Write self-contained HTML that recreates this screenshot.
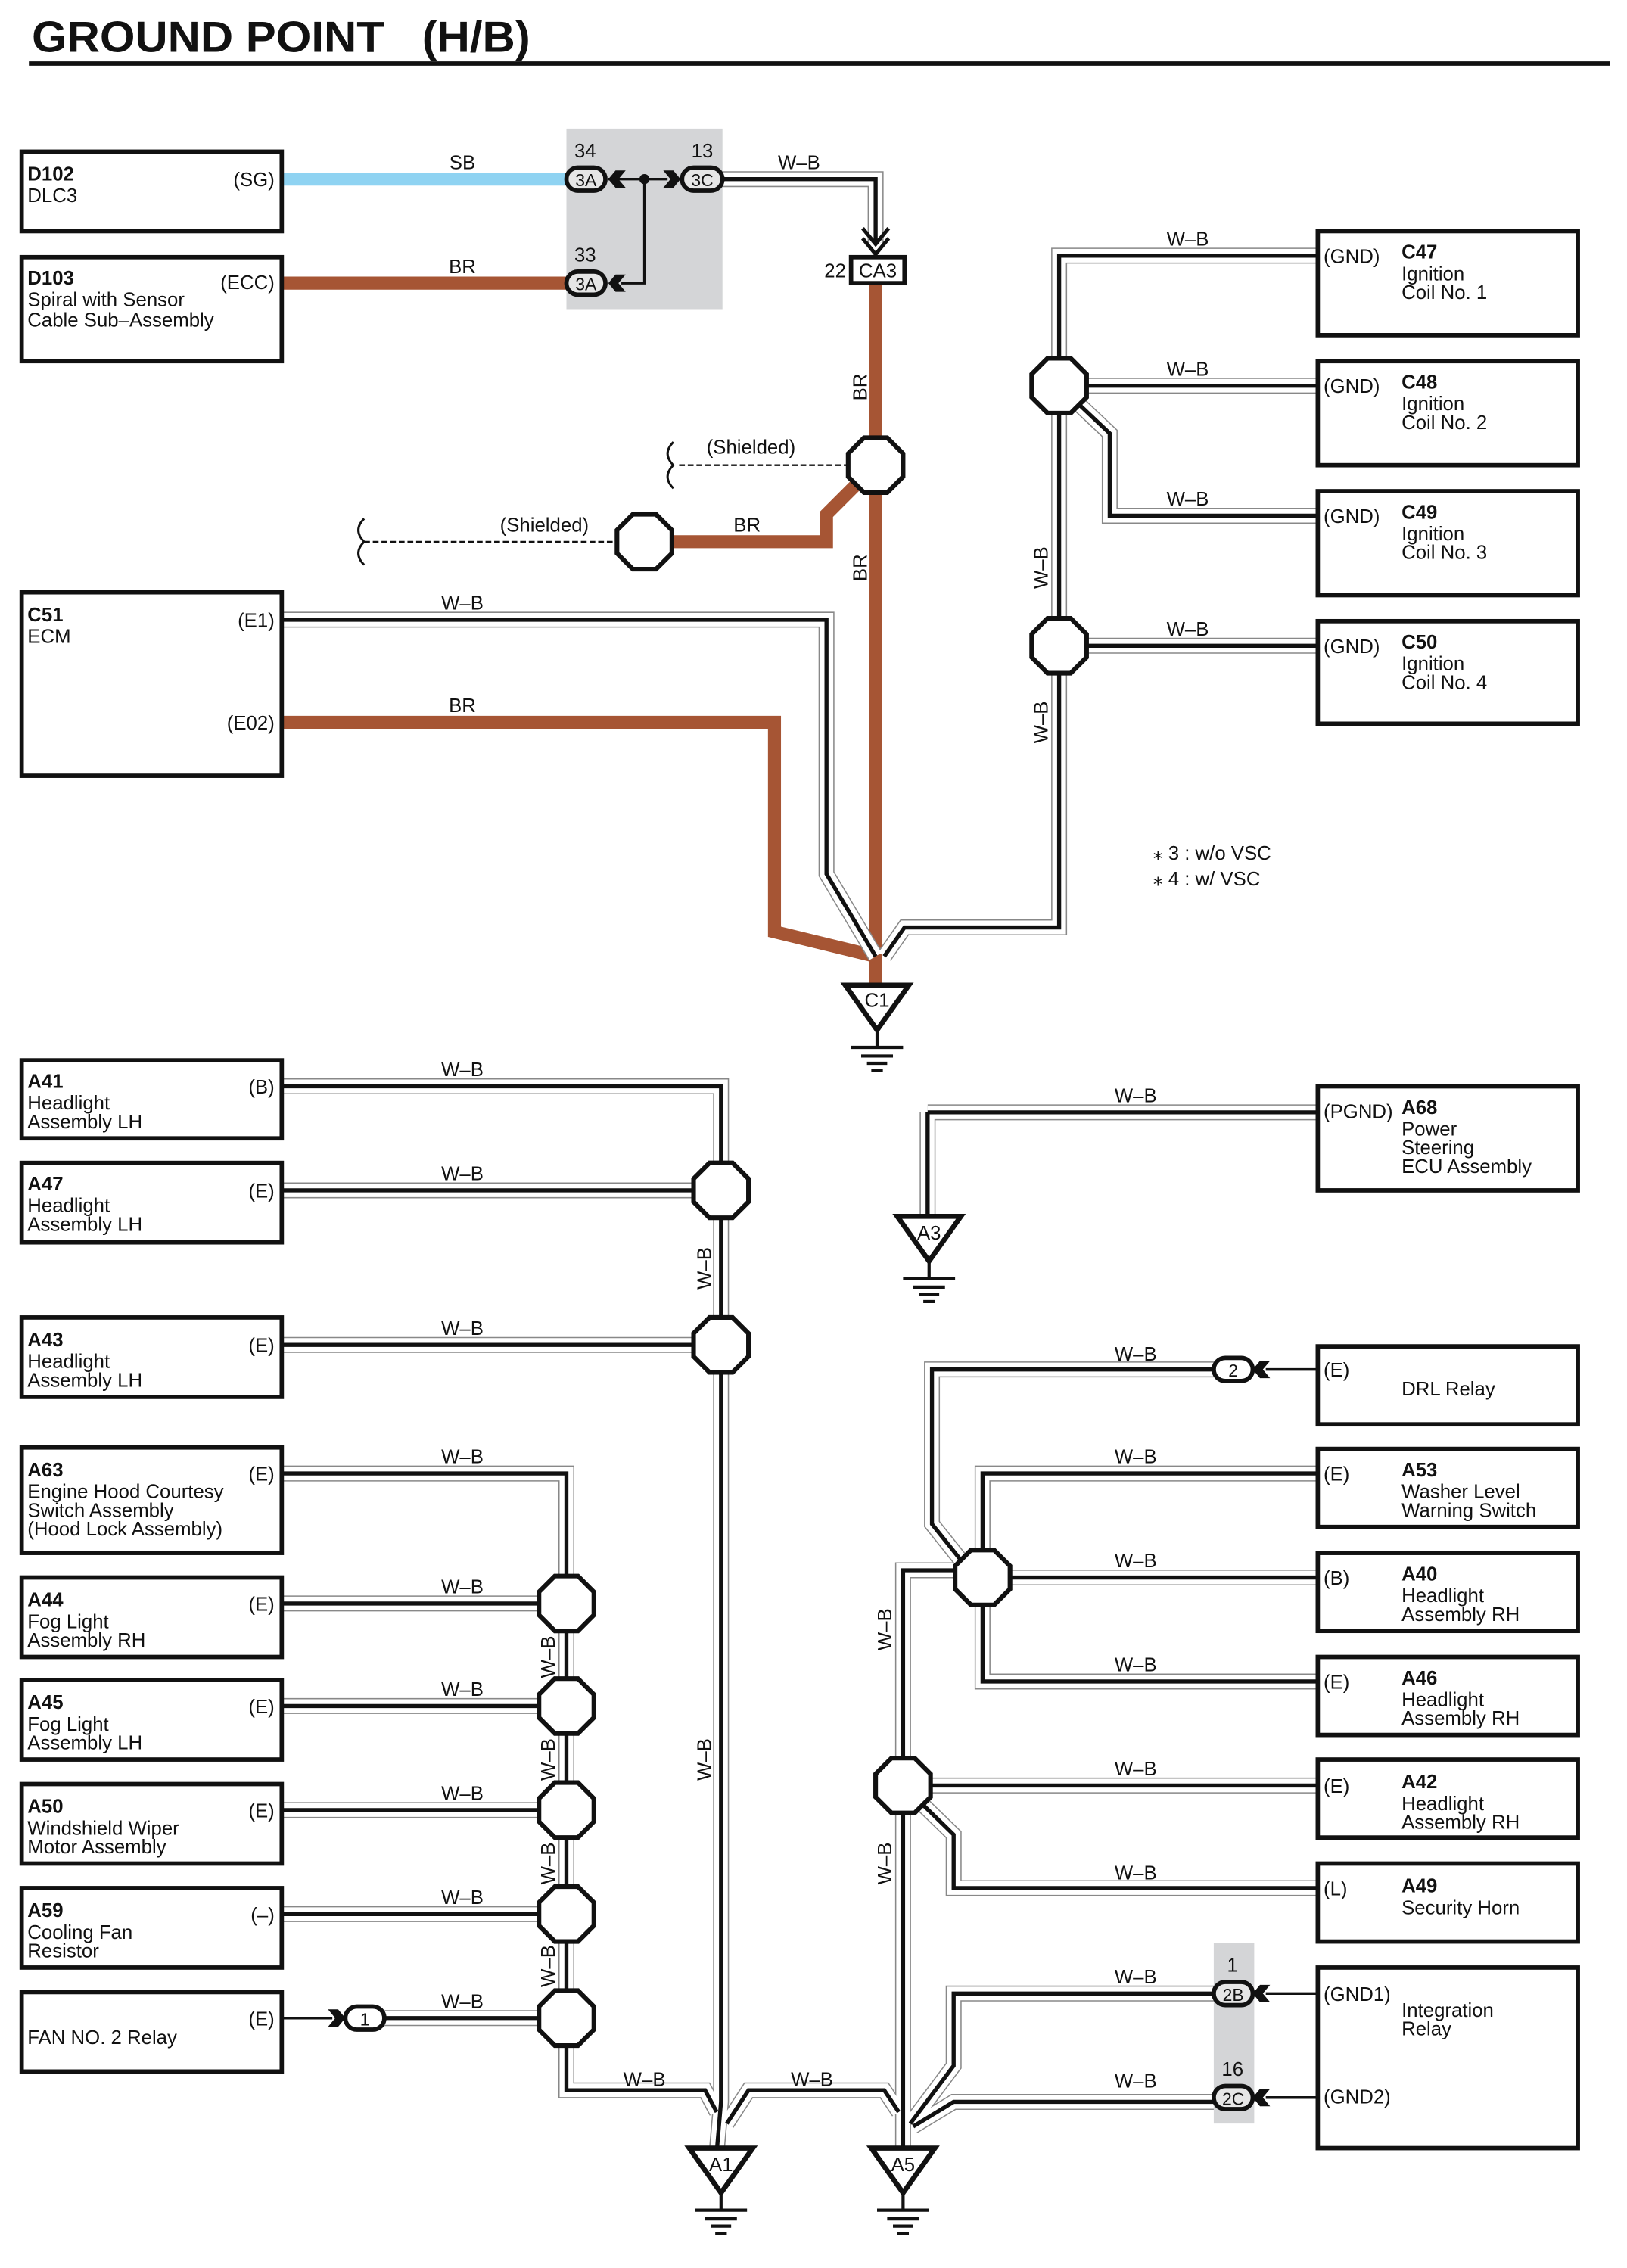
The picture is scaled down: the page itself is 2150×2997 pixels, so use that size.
<!DOCTYPE html>
<html><head><meta charset="utf-8"><style>
html,body{margin:0;padding:0;background:#fff}
svg{display:block}
text{font-family:"Liberation Sans Narrow","Liberation Sans",sans-serif;font-size:13.5px;fill:#111}
.b{font-weight:bold}
.box{fill:#fff;stroke:#111;stroke-width:3}
</style></head><body>
<svg width="2150" height="2997" viewBox="0 0 1126 1570" preserveAspectRatio="none" xmlns="http://www.w3.org/2000/svg">
<defs>
<g id="wires" fill="none">
<path d="M500 124 H606 V168"/>
<path d="M195 429 H572 V605 L606 662"/>
<path d="M612 662 L626 642 H733 V177 H912"/>
<path d="M733 267 H912"/>
<path d="M733 267 L768 300 V357 H912"/>
<path d="M733 447 H912"/>
<path d="M195 752 H499 V1455 L496 1490"/>
<path d="M195 824 H499"/>
<path d="M195 931 H499"/>
<path d="M195 1020 H392 V1447 H488 L496 1462"/>
<path d="M195 1110 H392"/>
<path d="M195 1181 H392"/>
<path d="M195 1253 H392"/>
<path d="M195 1325 H392"/>
<path d="M265 1397 H392"/>
<path d="M503 1470 L518 1447 H612 L622 1462"/>
<path d="M642 770 H912"/>
<path d="M642 770 V842"/>
<path d="M625 1490 V1087 H665"/>
<path d="M680 1092 H912"/>
<path d="M680 1092 V1020 H912"/>
<path d="M680 1092 V1164 H912"/>
<path d="M665 1080 L645 1055 V948 H840"/>
<path d="M625 1236 H912"/>
<path d="M625 1236 L660 1270 V1307 H912"/>
<path d="M630 1470 L660 1430 V1380 H840"/>
<path d="M632 1472 L660 1455 H840"/>
</g>
<path id="oct" d="M-8 -19 L8 -19 L19 -8 L19 8 L8 19 L-8 19 L-19 8 L-19 -8 Z" fill="#fff" stroke="#111" stroke-width="3.2"/>
<g id="gnd"><path d="M-22 0 H22 L0 31 Z" fill="#fff" stroke="#111" stroke-width="3.5" stroke-linejoin="miter"/><path d="M0 31 V43 M-18 43 H18 M-11 49 H11 M-7 54 H7 M-4 59 H4" stroke="#111" stroke-width="2.2"/></g>
<path id="chev" d="M0 0 L5 -6 L12 -6 L7 0 L12 6 L5 6 Z" fill="#111"/>
</defs>

<!-- title -->
<text x="22" y="36" class="b" style="font-family:'Liberation Sans',sans-serif;font-size:30px" textLength="345" lengthAdjust="spacingAndGlyphs">GROUND POINT&#160;&#160;&#160;(H/B)</text>
<rect x="20" y="42.5" width="1094" height="3" fill="#111"/>

<!-- gray blocks -->
<rect x="392" y="89" width="108" height="125" fill="#d4d5d7"/>
<rect x="840" y="1345" width="28" height="125" fill="#d4d5d7"/>

<!-- colored wires -->
<path d="M195 124 H392" stroke="#8fd3f2" stroke-width="9" fill="none"/>
<path d="M195 196 H392" stroke="#a65534" stroke-width="9" fill="none"/>
<path d="M606 196 V685" stroke="#a65534" stroke-width="9" fill="none"/>
<path d="M598 330 L572 356 V375 H465" stroke="#a65534" stroke-width="9" fill="none"/>
<path d="M195 500 H536 V645 L606 662" stroke="#a65534" stroke-width="9" fill="none" stroke-linejoin="miter"/>

<!-- W-B wires -->
<use href="#wires" stroke="#888" stroke-width="11"/>
<use href="#wires" stroke="#fff" stroke-width="9.4"/>
<use href="#wires" stroke="#111" stroke-width="2.8"/>

<!-- dashed shielded -->
<path d="M470 322 H588 M252 375 H428" stroke="#111" stroke-width="1.2" stroke-dasharray="4 2" fill="none"/>
<path d="M466 306 q-8 8 0 16 q-8 8 0 16" stroke="#111" stroke-width="1.5" fill="none"/>
<path d="M252 359 q-8 8 0 16 q-8 8 0 16" stroke="#111" stroke-width="1.5" fill="none"/>
<text x="489" y="314">(Shielded)</text>
<text x="346" y="368">(Shielded)</text>

<!-- junctions -->
<use href="#oct" x="606" y="322"/>
<use href="#oct" x="446" y="375"/>
<use href="#oct" x="733" y="267"/>
<use href="#oct" x="733" y="447"/>
<use href="#oct" x="499" y="824"/>
<use href="#oct" x="499" y="931"/>
<use href="#oct" x="392" y="1110"/>
<use href="#oct" x="392" y="1181"/>
<use href="#oct" x="392" y="1253"/>
<use href="#oct" x="392" y="1325"/>
<use href="#oct" x="392" y="1397"/>
<use href="#oct" x="680" y="1092"/>
<use href="#oct" x="625" y="1236"/>

<!-- connector block top -->
<path d="M421 124 H462 M446 124 V196 H430" stroke="#111" stroke-width="1.8" fill="none"/>
<circle cx="446" cy="124" r="3.5" fill="#111"/>
<use href="#chev" x="421" y="124"/>
<use href="#chev" x="421" y="196"/>
<path d="M471 124 L466 118 L459 118 L464 124 L459 130 L466 130 Z" fill="#111"/>
<rect x="392" y="116" width="27" height="16" rx="8" fill="#e6e6e6" stroke="#111" stroke-width="3"/>
<rect x="472" y="116" width="28" height="16" rx="8" fill="#e6e6e6" stroke="#111" stroke-width="3"/>
<rect x="392" y="188" width="27" height="16" rx="8" fill="#e6e6e6" stroke="#111" stroke-width="3"/>
<text x="405.5" y="129" text-anchor="middle" style="font-size:12px">3A</text>
<text x="486" y="129" text-anchor="middle" style="font-size:12px">3C</text>
<text x="405.5" y="201" text-anchor="middle" style="font-size:12px">3A</text>
<text x="405" y="109" text-anchor="middle">34</text>
<text x="486" y="109" text-anchor="middle">13</text>
<text x="405" y="181" text-anchor="middle">33</text>

<!-- CA3 -->
<path d="M597 158 L606 169 L615 158 M597 165 L606 176 L615 165" stroke="#111" stroke-width="2.6" fill="none"/>
<rect x="589" y="178" width="37" height="18" fill="#fff" stroke="#111" stroke-width="3"/>
<text x="607.5" y="192" text-anchor="middle">CA3</text>
<text x="578" y="192" text-anchor="middle">22</text>

<!-- wire labels -->
<text x="320" y="117" text-anchor="middle">SB</text>
<text x="320" y="189" text-anchor="middle">BR</text>
<text x="553" y="117" text-anchor="middle">W–B</text>
<text x="517" y="368" text-anchor="middle">BR</text>
<text x="320" y="422" text-anchor="middle">W–B</text>
<text x="320" y="493" text-anchor="middle">BR</text>
<text x="822" y="170" text-anchor="middle">W–B</text>
<text x="822" y="260" text-anchor="middle">W–B</text>
<text x="822" y="350" text-anchor="middle">W–B</text>
<text x="822" y="440" text-anchor="middle">W–B</text>
<text transform="translate(600 268) rotate(-90)" text-anchor="middle">BR</text>
<text transform="translate(600 393) rotate(-90)" text-anchor="middle">BR</text>
<text transform="translate(725 393) rotate(-90)" text-anchor="middle">W–B</text>
<text transform="translate(725 500) rotate(-90)" text-anchor="middle">W–B</text>
<text x="798" y="595">⁎ 3 : w/o VSC</text>
<text x="798" y="613">⁎ 4 : w/ VSC</text>

<text x="320" y="745" text-anchor="middle">W–B</text>
<text x="320" y="817" text-anchor="middle">W–B</text>
<text x="320" y="924" text-anchor="middle">W–B</text>
<text x="320" y="1013" text-anchor="middle">W–B</text>
<text x="320" y="1103" text-anchor="middle">W–B</text>
<text x="320" y="1174" text-anchor="middle">W–B</text>
<text x="320" y="1246" text-anchor="middle">W–B</text>
<text x="320" y="1318" text-anchor="middle">W–B</text>
<text x="320" y="1390" text-anchor="middle">W–B</text>
<text x="446" y="1444" text-anchor="middle">W–B</text>
<text x="562" y="1444" text-anchor="middle">W–B</text>
<text transform="translate(492 878) rotate(-90)" text-anchor="middle">W–B</text>
<text transform="translate(492 1218) rotate(-90)" text-anchor="middle">W–B</text>
<text transform="translate(384 1147) rotate(-90)" text-anchor="middle">W–B</text>
<text transform="translate(384 1218) rotate(-90)" text-anchor="middle">W–B</text>
<text transform="translate(384 1290) rotate(-90)" text-anchor="middle">W–B</text>
<text transform="translate(384 1361) rotate(-90)" text-anchor="middle">W–B</text>
<text transform="translate(617 1128) rotate(-90)" text-anchor="middle">W–B</text>
<text transform="translate(617 1290) rotate(-90)" text-anchor="middle">W–B</text>
<text x="786" y="763" text-anchor="middle">W–B</text>
<text x="786" y="942" text-anchor="middle">W–B</text>
<text x="786" y="1013" text-anchor="middle">W–B</text>
<text x="786" y="1085" text-anchor="middle">W–B</text>
<text x="786" y="1157" text-anchor="middle">W–B</text>
<text x="786" y="1229" text-anchor="middle">W–B</text>
<text x="786" y="1301" text-anchor="middle">W–B</text>
<text x="786" y="1373" text-anchor="middle">W–B</text>
<text x="786" y="1445" text-anchor="middle">W–B</text>

<!-- small connectors -->
<path d="M195 1397 H230" stroke="#111" stroke-width="1.8"/>
<path d="M239 1397 L234 1391 L227 1391 L232 1397 L227 1403 L234 1403 Z" fill="#111"/>
<rect x="239" y="1389" width="27" height="16" rx="8" fill="#fff" stroke="#111" stroke-width="3"/>
<text x="252.5" y="1402" text-anchor="middle" style="font-size:12px">1</text>
<path d="M876 948 H912" stroke="#111" stroke-width="1.8"/>
<use href="#chev" x="867" y="948"/>
<rect x="840" y="940" width="27" height="16" rx="8" fill="#fff" stroke="#111" stroke-width="3"/>
<text x="853.5" y="953" text-anchor="middle" style="font-size:12px">2</text>
<path d="M876 1380 H912 M876 1452 H912" stroke="#111" stroke-width="1.8"/>
<use href="#chev" x="867" y="1380"/>
<use href="#chev" x="867" y="1452"/>
<rect x="840" y="1372" width="27" height="16" rx="8" fill="#e6e6e6" stroke="#111" stroke-width="3"/>
<rect x="840" y="1444" width="27" height="16" rx="8" fill="#e6e6e6" stroke="#111" stroke-width="3"/>
<text x="853.5" y="1385" text-anchor="middle" style="font-size:12px">2B</text>
<text x="853.5" y="1457" text-anchor="middle" style="font-size:12px">2C</text>
<text x="853" y="1365" text-anchor="middle">1</text>
<text x="853" y="1437" text-anchor="middle">16</text>

<!-- grounds -->
<use href="#gnd" x="607" y="682"/><text x="607" y="697" text-anchor="middle">C1</text>
<use href="#gnd" x="643" y="842"/><text x="643" y="858" text-anchor="middle">A3</text>
<use href="#gnd" x="499" y="1487"/><text x="499" y="1503" text-anchor="middle">A1</text>
<use href="#gnd" x="625" y="1487"/><text x="625" y="1503" text-anchor="middle">A5</text>

<!-- left boxes -->
<rect class="box" x="15" y="105" width="180" height="55"/>
<text x="19" y="125" class="b">D102</text><text x="19" y="140">DLC3</text><text x="190" y="129" text-anchor="end">(SG)</text>
<rect class="box" x="15" y="178" width="180" height="72"/>
<text x="19" y="197" class="b">D103</text><text x="19" y="212">Spiral with Sensor</text><text x="19" y="226">Cable Sub–Assembly</text><text x="190" y="200" text-anchor="end">(ECC)</text>
<rect class="box" x="15" y="410" width="180" height="127"/>
<text x="19" y="430" class="b">C51</text><text x="19" y="445">ECM</text><text x="190" y="434" text-anchor="end">(E1)</text><text x="190" y="505" text-anchor="end">(E02)</text>

<rect class="box" x="15" y="734" width="180" height="54"/>
<text x="19" y="753" class="b">A41</text><text x="19" y="768">Headlight</text><text x="19" y="781">Assembly LH</text><text x="190" y="757" text-anchor="end">(B)</text>
<rect class="box" x="15" y="805" width="180" height="55"/>
<text x="19" y="824" class="b">A47</text><text x="19" y="839">Headlight</text><text x="19" y="852">Assembly LH</text><text x="190" y="829" text-anchor="end">(E)</text>
<rect class="box" x="15" y="912" width="180" height="55"/>
<text x="19" y="932" class="b">A43</text><text x="19" y="947">Headlight</text><text x="19" y="960">Assembly LH</text><text x="190" y="936" text-anchor="end">(E)</text>
<rect class="box" x="15" y="1002" width="180" height="73"/>
<text x="19" y="1022" class="b">A63</text><text x="19" y="1037">Engine Hood Courtesy</text><text x="19" y="1050">Switch Assembly</text><text x="19" y="1063">(Hood Lock Assembly)</text><text x="190" y="1025" text-anchor="end">(E)</text>
<rect class="box" x="15" y="1092" width="180" height="55"/>
<text x="19" y="1112" class="b">A44</text><text x="19" y="1127">Fog Light</text><text x="19" y="1140">Assembly RH</text><text x="190" y="1115" text-anchor="end">(E)</text>
<rect class="box" x="15" y="1163" width="180" height="55"/>
<text x="19" y="1183" class="b">A45</text><text x="19" y="1198">Fog Light</text><text x="19" y="1211">Assembly LH</text><text x="190" y="1186" text-anchor="end">(E)</text>
<rect class="box" x="15" y="1235" width="180" height="55"/>
<text x="19" y="1255" class="b">A50</text><text x="19" y="1270">Windshield Wiper</text><text x="19" y="1283">Motor Assembly</text><text x="190" y="1258" text-anchor="end">(E)</text>
<rect class="box" x="15" y="1307" width="180" height="55"/>
<text x="19" y="1327" class="b">A59</text><text x="19" y="1342">Cooling Fan</text><text x="19" y="1355">Resistor</text><text x="190" y="1330" text-anchor="end">(–)</text>
<rect class="box" x="15" y="1379" width="180" height="55"/>
<text x="19" y="1415">FAN NO. 2 Relay</text><text x="190" y="1402" text-anchor="end">(E)</text>

<!-- right boxes -->
<rect class="box" x="912" y="160" width="180" height="72"/>
<text x="916" y="182">(GND)</text><text x="970" y="179" class="b">C47</text><text x="970" y="194">Ignition</text><text x="970" y="207">Coil No.  1</text>
<rect class="box" x="912" y="250" width="180" height="72"/>
<text x="916" y="272">(GND)</text><text x="970" y="269" class="b">C48</text><text x="970" y="284">Ignition</text><text x="970" y="297">Coil No.  2</text>
<rect class="box" x="912" y="340" width="180" height="72"/>
<text x="916" y="362">(GND)</text><text x="970" y="359" class="b">C49</text><text x="970" y="374">Ignition</text><text x="970" y="387">Coil No.  3</text>
<rect class="box" x="912" y="430" width="180" height="71"/>
<text x="916" y="452">(GND)</text><text x="970" y="449" class="b">C50</text><text x="970" y="464">Ignition</text><text x="970" y="477">Coil No.  4</text>

<rect class="box" x="912" y="752" width="180" height="72"/>
<text x="916" y="774">(PGND)</text><text x="970" y="771" class="b">A68</text><text x="970" y="786">Power</text><text x="970" y="799">Steering</text><text x="970" y="812">ECU Assembly</text>
<rect class="box" x="912" y="932" width="180" height="54"/>
<text x="916" y="953">(E)</text><text x="970" y="966">DRL Relay</text>
<rect class="box" x="912" y="1003" width="180" height="54"/>
<text x="916" y="1025">(E)</text><text x="970" y="1022" class="b">A53</text><text x="970" y="1037">Washer Level</text><text x="970" y="1050">Warning Switch</text>
<rect class="box" x="912" y="1075" width="180" height="54"/>
<text x="916" y="1097">(B)</text><text x="970" y="1094" class="b">A40</text><text x="970" y="1109">Headlight</text><text x="970" y="1122">Assembly RH</text>
<rect class="box" x="912" y="1147" width="180" height="54"/>
<text x="916" y="1169">(E)</text><text x="970" y="1166" class="b">A46</text><text x="970" y="1181">Headlight</text><text x="970" y="1194">Assembly RH</text>
<rect class="box" x="912" y="1218" width="180" height="54"/>
<text x="916" y="1241">(E)</text><text x="970" y="1238" class="b">A42</text><text x="970" y="1253">Headlight</text><text x="970" y="1266">Assembly RH</text>
<rect class="box" x="912" y="1290" width="180" height="54"/>
<text x="916" y="1312">(L)</text><text x="970" y="1310" class="b">A49</text><text x="970" y="1325">Security Horn</text>
<rect class="box" x="912" y="1362" width="180" height="125"/>
<text x="916" y="1385">(GND1)</text><text x="916" y="1456">(GND2)</text><text x="970" y="1396">Integration</text><text x="970" y="1409">Relay</text>
</svg>
</body></html>
